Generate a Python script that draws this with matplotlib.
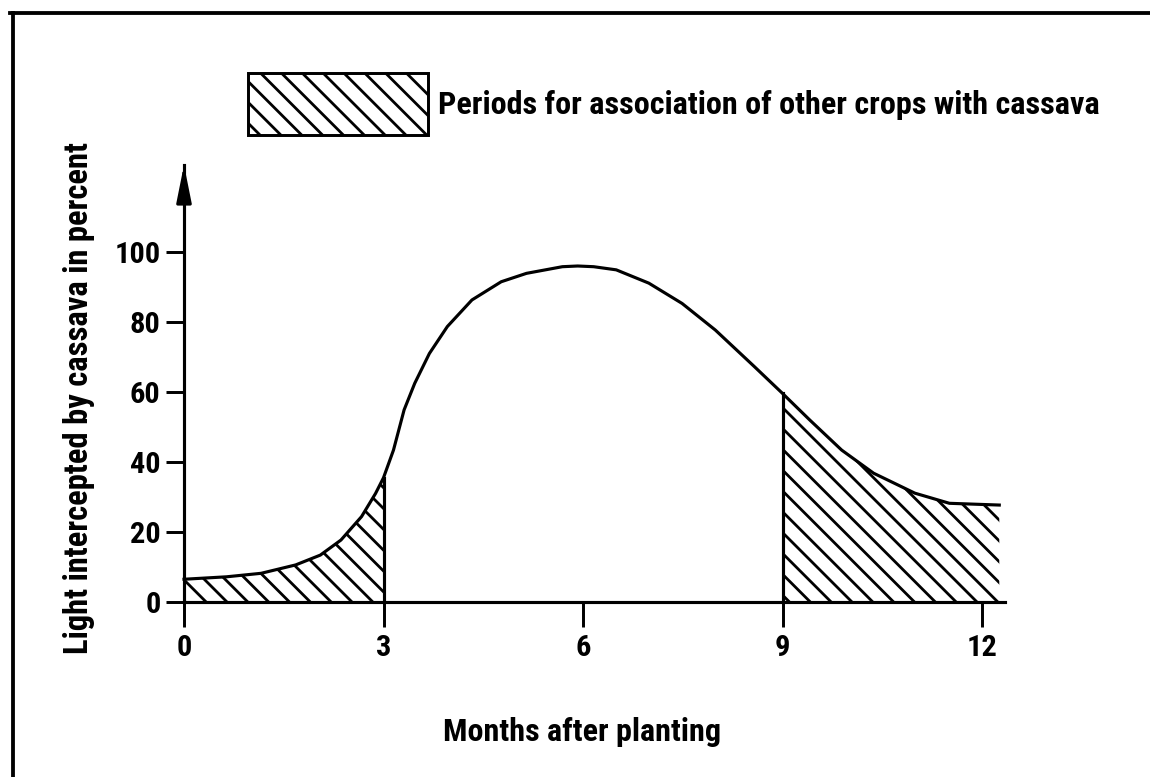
import matplotlib
matplotlib.use("Agg")
import matplotlib.pyplot as plt
from matplotlib.patches import Patch
from matplotlib.lines import Line2D

plt.rcParams['font.family'] = ['Roboto Condensed', 'Liberation Sans Narrow',
                               'DejaVu Sans']
plt.rcParams['font.stretch'] = 'condensed'
plt.rcParams['font.weight'] = 'bold'
plt.rcParams['hatch.linewidth'] = 1.6

# curve: months after planting vs % light intercepted
months = [0, 0.64, 1.16, 1.68, 2.05, 2.36, 2.67, 2.88, 3.0, 3.15, 3.31,
          3.47, 3.69, 3.96, 4.33, 4.77, 5.15, 5.69, 5.92, 6.16, 6.5, 6.99,
          7.49, 7.99, 8.58, 9.0, 9.41, 9.89, 10.37, 10.99, 11.51, 12.26]
light = [6.5, 7.2, 8.2, 10.6, 13.4, 17.7, 24.4, 31, 35.5, 43.4, 54.9,
         62.5, 71, 78.7, 86.3, 91.5, 93.9, 95.8, 96, 95.8, 94.9, 91.1,
         85.3, 77.7, 67.2, 59.6, 52, 43.4, 36.8, 31.1, 28.2, 27.7]

# periods for association of other crops (start, end in months)
periods = [(0, 3), (9, 12.26)]
xticks = [0, 3, 6, 9, 12]
yticks = [0, 20, 40, 60, 80, 100]
legend_label = "Periods for association of other crops with cassava"

W, H = 1150, 777
fig = plt.figure(figsize=(9.2, 6.216), dpi=125)
px_per_month = 66.5
xmax = 12.34
ymax = 124.9
ax = fig.add_axes([184 / W, 175 / H, px_per_month * xmax / W, ymax * 3.5 / H])
ax.set_xlim(0, xmax)
ax.set_ylim(0, ymax)

ax.plot(months, light, color='black', lw=1.8, clip_on=False,
        solid_joinstyle='round')

for a, b in periods:
    xs = [m for m in months if a <= m <= b]
    ys = [v for m, v in zip(months, light) if a <= m <= b]
    ax.fill_between(xs, 0, ys, facecolor='white', edgecolor='black',
                    hatch='\\\\', linewidth=0)
    for edge in (a, b):
        if edge in months and 0 < edge < 12:
            ax.plot([edge, edge], [0, light[months.index(edge)]],
                    color='black', lw=1.8)

for s in ('top', 'right'):
    ax.spines[s].set_visible(False)
for s in ('left', 'bottom'):
    ax.spines[s].set_linewidth(1.8)

ax.annotate('', xy=(0, ymax + 1), xytext=(0, ymax - 12),
            arrowprops=dict(arrowstyle='-|>,head_length=0.9,head_width=0.18',
                            mutation_scale=20, color='black', lw=1.8),
            annotation_clip=False)

ax.set_xticks(xticks)
ax.set_yticks(yticks)
ax.tick_params(axis='x', length=14.4, width=1.7, pad=4, labelsize=17.5)
ax.tick_params(axis='y', length=10.4, width=1.7, pad=3, labelsize=17.5)

ax.set_xlabel("Months after planting", fontsize=18.5, fontweight='bold')
ax.xaxis.set_label_coords(0.485, -0.262)
ax.set_ylabel("Light intercepted by cassava in percent", fontsize=18.8,
              fontweight='bold')
ax.yaxis.set_label_coords(-0.108, 0.467)

handle = Patch(facecolor='white', edgecolor='black', hatch='\\\\', lw=1.7,
               label=legend_label)
fig.legend(handles=[handle], loc='upper left',
           bbox_to_anchor=(248 / W, 1 - 73 / H), frameon=False,
           borderpad=0, borderaxespad=0, fontsize=18.6,
           handlelength=5.56, handleheight=2.56, handletextpad=0.32)

# scanned page frame
fig.add_artist(Line2D([10 / W, 1], [1 - 13 / H, 1 - 13 / H], lw=2.2, color='black'))
fig.add_artist(Line2D([13 / W, 13 / W], [0, 1 - 13 / H], lw=2.2, color='black'))

fig.savefig("out.png", dpi=125, facecolor='white')
